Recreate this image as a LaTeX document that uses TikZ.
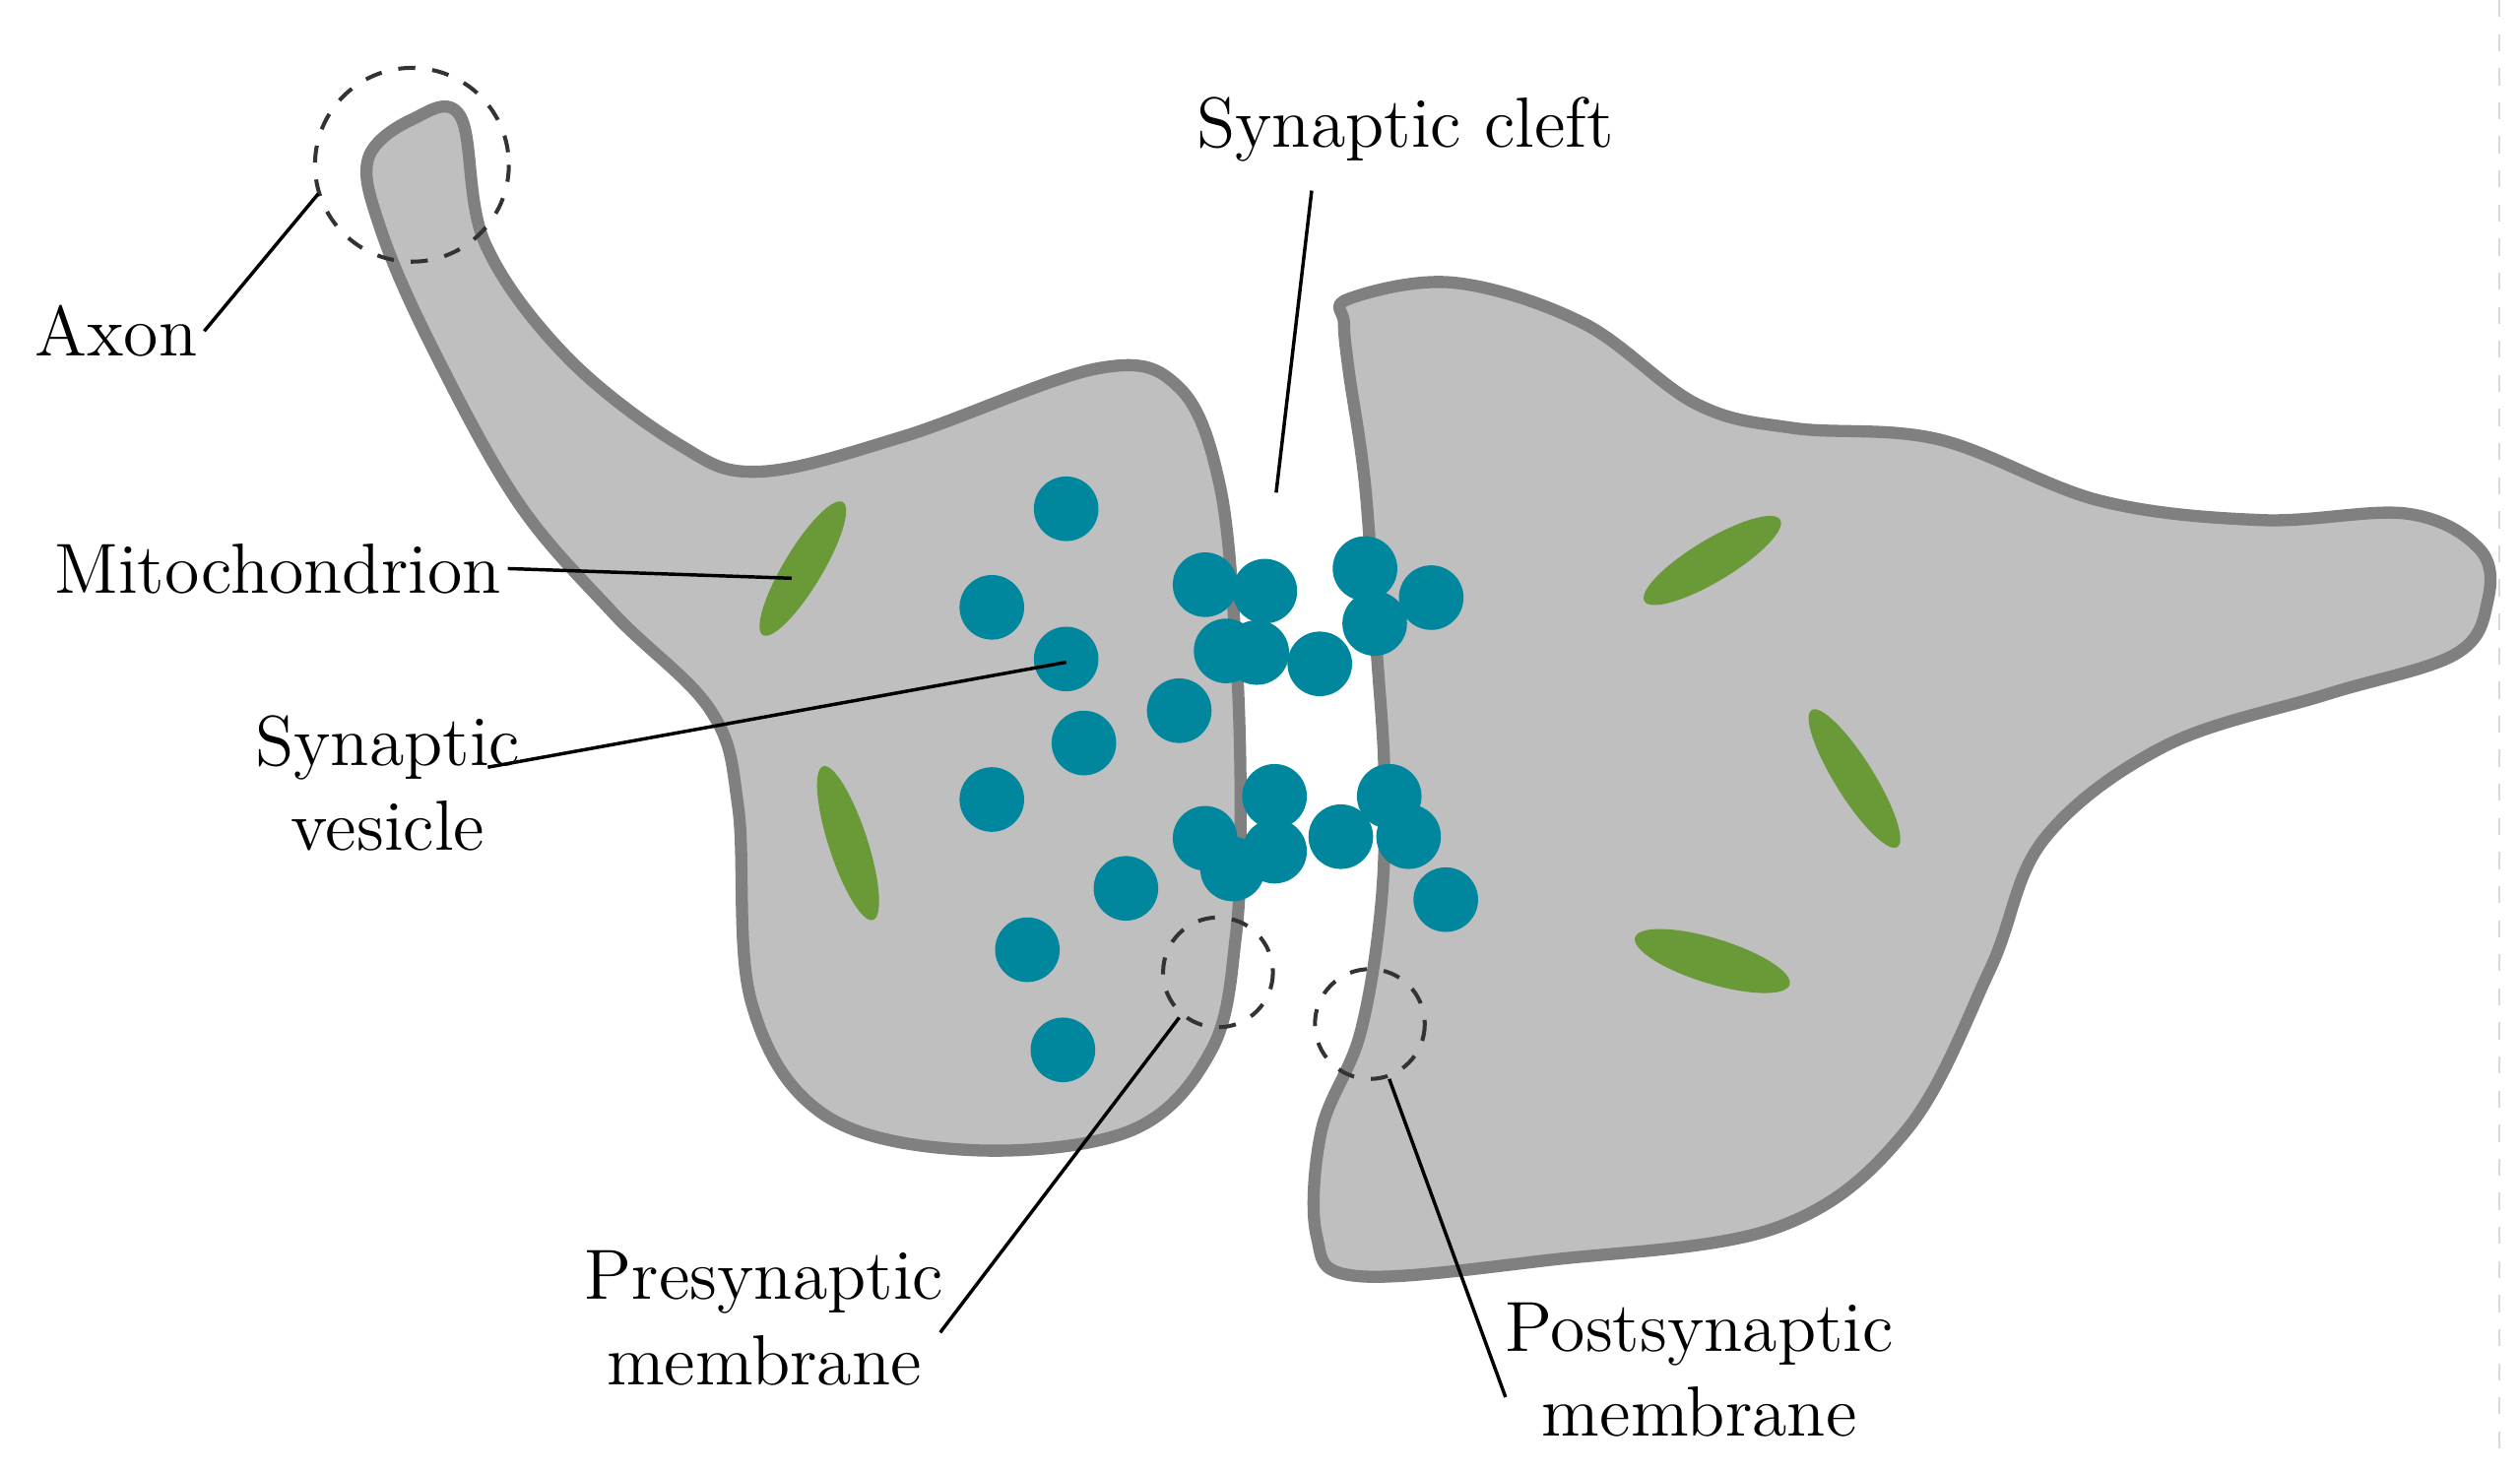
\documentclass[tikz,border=0pt]{standalone}
\begin{document}
\begin{tikzpicture}[x=0.01cm,y=-0.01cm,
  cell/.style={fill=black!25,draw=black!50,line width=0.075cm,line join=round},
  ves/.style={fill=vcol},
  mito/.style={fill=mcol},
  ring/.style={draw=black!80,dashed,line width=0.7pt},
  lab/.style={font=\fontsize{12.5}{15}\selectfont,align=center,inner sep=1pt},
  lead/.style={line width=0.6pt}]
\definecolor{vcol}{HTML}{00879D}
\definecolor{mcol}{HTML}{6A9A38}
\useasboundingbox (0,0) rectangle (1560,911);
\fill[white] (0,0) rectangle (1560,911);
\draw[black!15,dashed,line width=0.4pt] (1547,0) -- (1547,900);
% presynaptic
\draw[cell] plot[smooth cycle,tension=0.6] coordinates{(285,72)(300,150)(350,220)(420,275)(470,292)(560,270)(680,228)(730,240)(755,300)(765,400)(768,500)(765,580)(750,650)(700,700)(600,712)(510,690)(465,620)(457,500)(440,440)(380,380)(320,310)(265,210)(235,140)(228,98)(255,74)};
% postsynaptic
\draw[cell] plot[smooth cycle,tension=0.6] coordinates{(835,185)(900,175)(980,200)(1050,250)(1110,265)(1200,272)(1300,310)(1400,322)(1490,318)(1535,340)(1540,372)(1520,405)(1440,430)(1340,462)(1265,520)(1232,600)(1180,700)(1100,760)(960,780)(840,790)(815,765)(818,700)(842,640)(855,560)(857,480)(852,400)(845,300)(835,230)(832,200)};
% mitochondria
\fill[mito,rotate around={59:(497,352)}] (497,352) ellipse (48 and 12);
\fill[mito,rotate around={-72:(525,522)}] (525,522) ellipse (50 and 12);
\fill[mito,rotate around={31:(1060,347)}] (1060,347) ellipse (49 and 13);
\fill[mito,rotate around={-58:(1148,482)}] (1148,482) ellipse (50 and 12);
\fill[mito,rotate around={-17:(1060,595)}] (1060,595) ellipse (50 and 14);
% vesicles
\foreach \p in {(660,315),(614,376),(660,408),(730,440),(671,460),(614,495),(697,550),(636,588),(658,650),(746,362),(783,366),(759,403),(778,404),(817,411),(845,352),(851,386),(886,370),(789,493),(746,519),(763,538),(789,527),(830,518),(860,493),(872,518),(895,557)}
  \fill[ves] \p circle (20);
% rings
\draw[ring] (255,102) circle (60);
\draw[ring] (754,602) circle (34);
\draw[ring] (848,634) circle (34);
% labels
\node[lab] (axon) at (72,205) {Axon};
\node[lab] (cleft) at (870,80) {Synaptic cleft};
\node[lab] (mit) at (172,352) {Mitochondrion};
\node[lab] (sv) at (240,485) {Synaptic\\vesicle};
\node[lab] (pre) at (473,816) {Presynaptic\\membrane};
\node[lab] (post) at (1052,848) {Postsynaptic\\membrane};
\coordinate (a1) at (197,120);
\coordinate (c1) at (790,305);
\coordinate (m1) at (490,358);
\coordinate (s1) at (660,410);
\coordinate (p1) at (730,630);
\coordinate (q1) at (860,668);
\draw[lead] (axon.east) -- (a1);
\draw[lead] (812,118) -- (c1);
\draw[lead] (mit.east) -- (m1);
\draw[lead] (302,475) -- (s1);
\draw[lead] (582,825) -- (p1);
\draw[lead] (932,865) -- (q1);
\end{tikzpicture}
\end{document}
